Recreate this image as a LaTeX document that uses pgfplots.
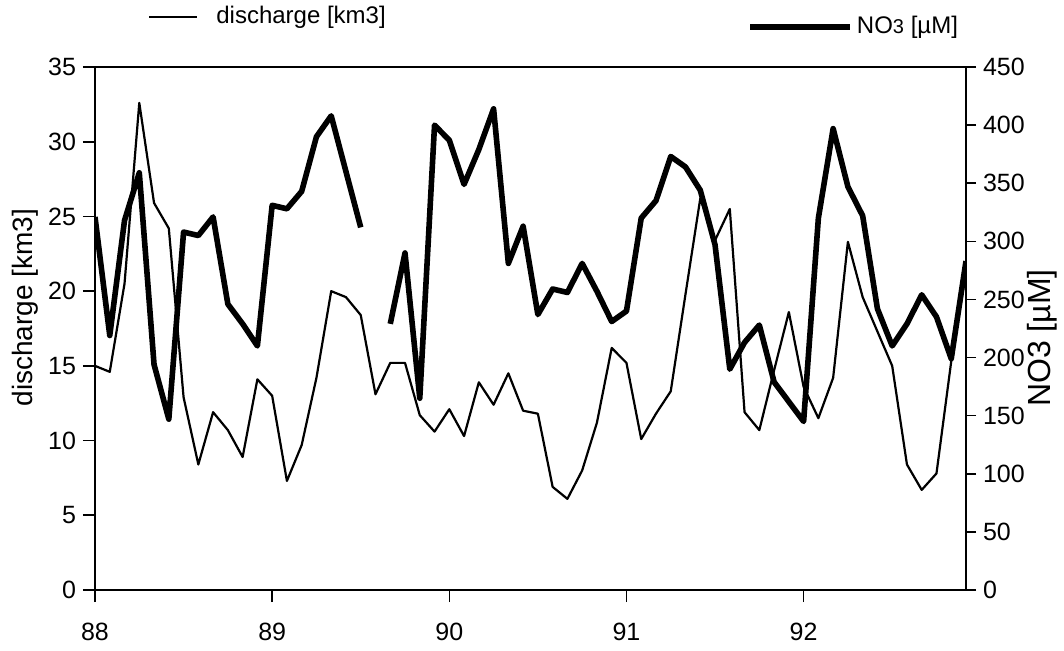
\documentclass[border=0pt]{standalone}
\usepackage{fontspec}
\setmainfont{Liberation Sans}
\usepackage{pgfplots}
\pgfplotsset{compat=1.18}
\usepackage{pgfplotstable}

% monthly values, month 0 = January 1988
\pgfplotstableread{
m q
0 15.0
1 14.6
2 20.5
3 32.6
4 25.9
5 24.2
6 12.9
7 8.4
8 11.9
9 10.7
10 8.9
11 14.1
12 13.0
13 7.3
14 9.7
15 14.2
16 20.0
17 19.6
18 18.4
19 13.1
20 15.2
21 15.2
22 11.7
23 10.6
24 12.1
25 10.3
26 13.9
27 12.4
28 14.5
29 12.0
30 11.8
31 6.9
32 6.1
33 8.0
34 11.2
35 16.2
36 15.2
37 10.1
38 11.8
39 13.3
40 19.8
41 26.2
42 23.4
43 25.5
44 11.9
45 10.7
46 14.7
47 18.6
48 13.6
49 11.5
50 14.2
51 23.3
52 19.6
53 17.3
54 15.0
55 8.4
56 6.7
57 7.8
58 15.3
59 21.3
}\discharge

\pgfplotstableread{
m n
0 321
1 219
2 318
3 359
4 194
5 147
6 308
7 305
8 321
9 246
10 229
11 210
12 331
13 328
14 343
15 390
16 408
17 360
18 312
19 nan
20 229
21 290
22 165
23 400
24 387
25 349
26 379
27 414
28 281
29 313
30 237
31 259
32 256
33 281
34 257
35 231
36 240
37 320
38 335
39 373
40 364
41 344
42 297
43 190
44 213
45 228
46 179
47 162
48 145
49 320
50 397
51 347
52 322
53 242
54 210
55 229
56 254
57 235
58 199
59 283
}\nitrate

\pgfplotsset{
  common/.style={
    at={(0pt,0pt)}, anchor=south west,
    scale only axis, width=435.5pt, height=261.5pt,
    xmin=0, xmax=59,
    tick align=outside,
    major tick length=6pt,
    every tick/.style={black, line width=0.8pt},
    axis line style={line width=1.2pt},
    tick label style={font=\fontsize{12.5}{14}\selectfont},
    /pgf/number format/assume math mode=true,
    legend style={draw=none, fill=none, inner sep=0pt, outer sep=0pt,
      font=\fontsize{12}{14}\selectfont},
    unbounded coords=jump,
  },
}

\begin{document}
\begin{tikzpicture}
\useasboundingbox (-47.5pt,-30pt) rectangle (484.5pt,295pt);

\begin{axis}[
  common,
  ymin=0, ymax=35,
  xtick={0,12,24,36,48}, xticklabels={88,89,90,91,92},
  ytick={0,5,...,35},
  xtick pos=bottom, ytick pos=left,
  xticklabel style={yshift=-7pt},
  ylabel={discharge [km3]},
  ylabel style={font=\fontsize{14}{16}\selectfont, at={(axis description cs:-0.080,0.54)}, anchor=center},
  legend style={at={(axis description cs:0.061,1.096)}, anchor=west},
  legend image code/.code={\draw[#1] (0pt,0pt) -- (24pt,0pt);},
]
\addplot[black, line width=1.1pt, line join=round] table[x=m, y=q] {\discharge};
\addlegendentry{\hspace{7pt}discharge [km3]}
\end{axis}

\begin{axis}[
  common,
  ymin=0, ymax=450,
  ytick={0,50,...,450},
  axis y line*=right,
  hide x axis,
  major tick length=5pt,
  ylabel={NO3 [µM]},
  ylabel style={font=\fontsize{16}{18}\selectfont, at={(axis description cs:1.088,0.482)}, anchor=center},
  legend style={at={(axis description cs:0.749,1.077)}, anchor=west},
  legend image code/.code={\draw[#1] (0pt,0pt) -- (50pt,0pt);},
]
\addplot[black, line width=2.8pt, line join=round] table[x=m, y=n] {\nitrate};
\addlegendentry{NO{\fontsize{10}{12}\selectfont 3} [µM]}
\end{axis}
\end{tikzpicture}
\end{document}
